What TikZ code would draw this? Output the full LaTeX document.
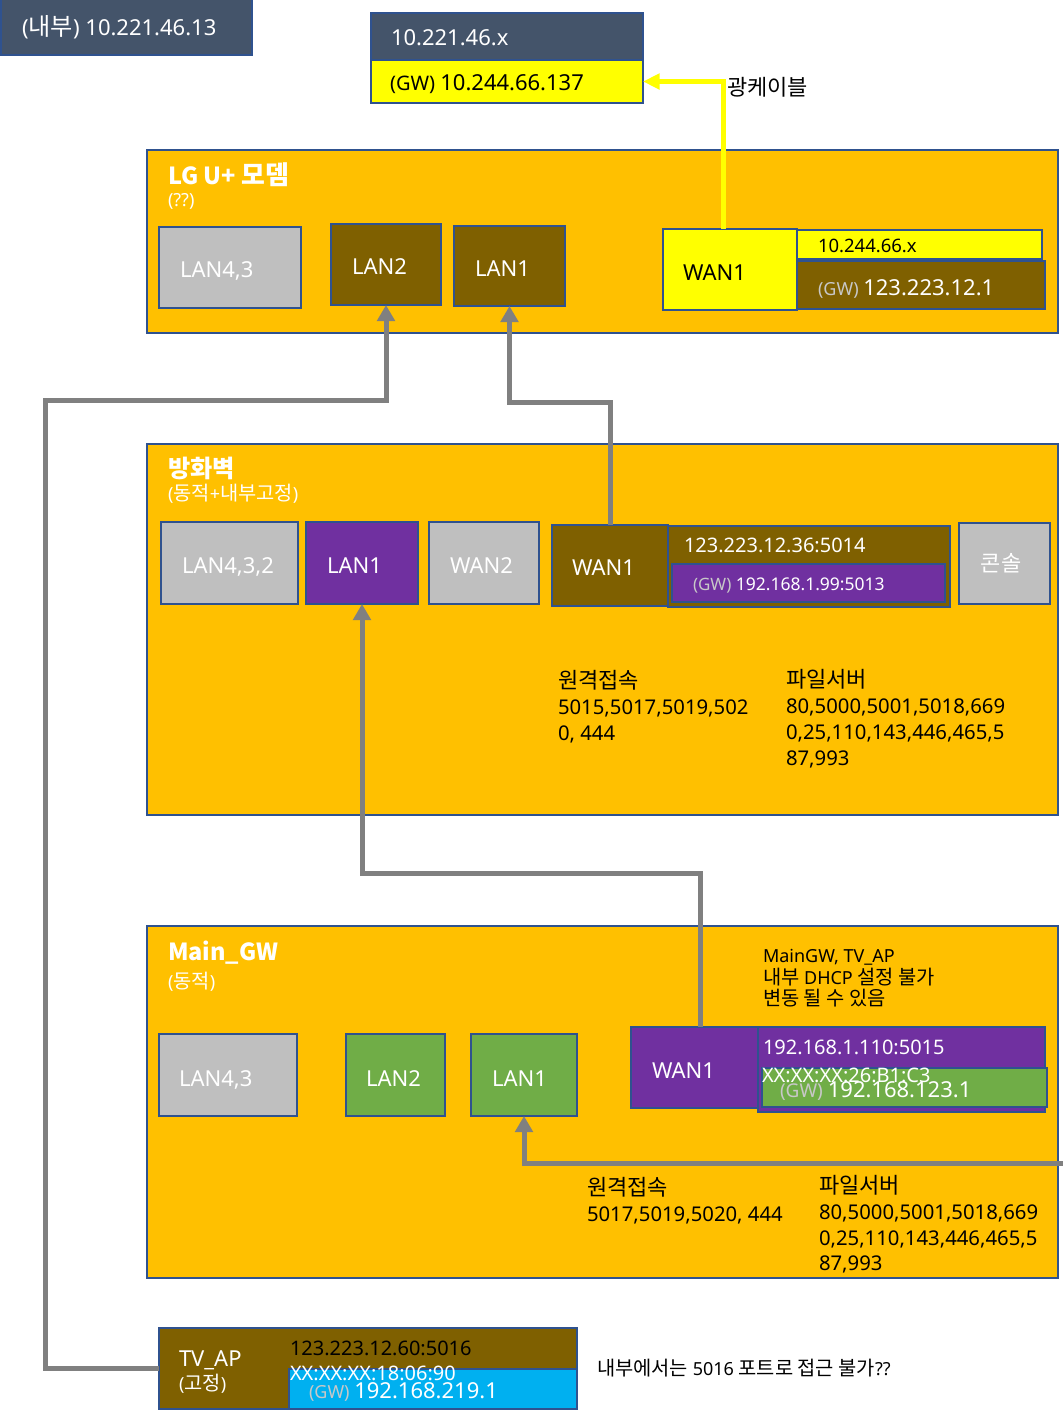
\documentclass[tikz,border=0pt]{standalone}
\usepackage{fontspec}
\setmainfont{Noto Sans}
\newfontfamily\kr{Noto Sans CJK KR}[Scale=1.1]
\newfontfamily\krt{Noto Sans CJK KR}
\usetikzlibrary{fit,arrows.meta,calc}
\definecolor{slate}{HTML}{44546A}
\definecolor{bd}{HTML}{2F528F}
\definecolor{gold}{HTML}{FFC000}
\definecolor{brn}{HTML}{7F6000}
\definecolor{lgr}{HTML}{BFBFBF}
\definecolor{purp}{HTML}{7030A0}
\definecolor{grn}{HTML}{70AD47}
\definecolor{sky}{HTML}{00B0F0}
\definecolor{yel}{HTML}{FFFF00}
\definecolor{cgr}{HTML}{808080}
\definecolor{gwt}{HTML}{C8C8C8}
\newcommand\pxs[1]{\fontsize{\dimexpr #1pt*3/4\relax}{\dimexpr #1pt*9/10\relax}\selectfont}
\begin{document}
\begin{tikzpicture}[x=0.75pt,y=-0.75pt,
  bx/.style={draw=bd, line width=1.2pt, inner sep=0pt, outer sep=0pt},
  t/.style={anchor=base west, inner sep=0pt, outer sep=0pt, text=white},
  tb/.style={t, text=black},
  conn/.style={draw=cgr, line width=3.75pt, -{Triangle[length=12pt,width=13pt]}},
  ycab/.style={draw=yel, line width=3.75pt, -{Triangle[length=12.5pt,width=11.5pt]}}]
\useasboundingbox (0,0) rectangle (1063,1411);

% top boxes
\node[bx, fill=slate, fit={(1,-2) (252,55)}] (inner) {};
\node[t, font=\pxs{22}] (innerT) at (22,35) {({\kr 내부}) 10.221.46.13};
\node[bx, fill=slate, fit={(371,13) (643,60)}] (topnet) {};
\node[t, font=\pxs{22}] (topnetT) at (391,45) {10.221.46.x};
\node[bx, fill=yel, fit={(371,60) (643,103)}] (topgw) {};
\node[tb, font=\pxs{20}] (topgwT) at (390,90) {(GW)\ {\pxs{22}10.244.66.137}};

% modem
\node[bx, fill=gold, fit={(147,150) (1058,333)}] (modem) {};
\node[t, font=\pxs{23.5}\bfseries\krt] (modemT) at (168,184) {LG U+ {\kr 모뎀}};
\node[t, font=\pxs{18}] (modemS) at (168,206) {(??)};
\node[bx, fill=lgr, fit={(159,227) (301,308)}] (mLAN43) {};
\node[t, font=\pxs{22}] (mLAN43T) at (180,277) {LAN4,3};
\node[bx, fill=brn, fit={(331,224) (441,305)}] (mLAN2) {};
\node[t, font=\pxs{22}] (mLAN2T) at (352,274) {LAN2};
\node[bx, fill=brn, fit={(454,226) (565,306)}] (mLAN1) {};
\node[t, font=\pxs{22}] (mLAN1T) at (475,276) {LAN1};
\node[bx, fill=yel, fit={(663,229) (797,310)}] (mWAN1) {};
\node[tb, font=\pxs{22}] (mWAN1T) at (683,280) {WAN1};
\node[bx, fill=yel, fit={(797,230) (1042,259)}] (mWANip) {};
\node[tb, font=\pxs{18.5}] (mWANipT) at (818,252) {10.244.66.x};
\node[bx, fill=brn, fit={(797,261) (1045,309)}] (mWANgw) {};
\node[t, font=\pxs{18}, text=gwt] (mWANgwT) at (818,295) {(GW)\ {\pxs{22}\color{white}123.223.12.1}};

% firewall
\node[bx, fill=gold, fit={(147,444) (1058,815)}] (fw) {};
\node[t, font=\pxs{22}\bfseries\kr] (fwT) at (168,477) {방화벽};
\node[t, font=\pxs{18}] (fwS) at (168,500) {({\kr 동적}+{\kr 내부고정})};
\node[bx, fill=lgr, fit={(161,522) (298,604)}] (fLAN432) {};
\node[t, font=\pxs{22}] (fLAN432T) at (182,573) {LAN4,3,2};
\node[bx, fill=purp, fit={(306,522) (418,604)}] (fLAN1) {};
\node[t, font=\pxs{22}] (fLAN1T) at (327,573) {LAN1};
\node[bx, fill=lgr, fit={(429,522) (539,604)}] (fWAN2) {};
\node[t, font=\pxs{22}] (fWAN2T) at (450,573) {WAN2};
\node[bx, fill=brn, fit={(552,525) (668,606)}] (fWAN1) {};
\node[t, font=\pxs{22}] (fWAN1T) at (572,575) {WAN1};
\node[bx, fill=brn, fit={(668,526) (950,607)}] (fWANip) {};
\node[t, font=\pxs{20}] (fWANipT) at (684,552) {123.223.12.36:5014};
\node[bx, fill=purp, fit={(672,564) (945,602)}] (fWANgw) {};
\node[t, font=\pxs{17}, text=gwt] (fWANgwT) at (693,590) {(GW)\ {\pxs{17.5}\color{white}192.168.1.99:5013}};
\node[bx, fill=lgr, fit={(959,523) (1050,604)}] (fCon) {};
\node[t, anchor=base, font=\pxs{20}\kr] (fConT) at (1001,571) {콘솔};
\node[tb, font=\pxs{20}\kr] (fR1) at (558,688) {원격접속};
\node[tb, font=\pxs{20.3}] (fR2) at (558,714) {5015,5017,5019,502};
\node[tb, font=\pxs{20.3}] (fR3) at (558,740) {0, 444};
\node[tb, font=\pxs{20}\kr] (fF1) at (786,687) {파일서버};
\node[tb, font=\pxs{20.3}] (fF2) at (786,713) {80,5000,5001,5018,669};
\node[tb, font=\pxs{20.3}] (fF3) at (786,739) {0,25,110,143,446,465,5};
\node[tb, font=\pxs{20.3}] (fF4) at (786,765) {87,993};

% Main_GW
\node[bx, fill=gold, fit={(147,926) (1058,1278)}] (mgw) {};
\node[t, font=\pxs{23.5}\bfseries\krt] (mgwT) at (168,960) {Main\_GW};
\node[t, font=\pxs{18}] (mgwS) at (168,988) {({\kr 동적})};
\node[bx, fill=lgr, fit={(159,1034) (297,1116)}] (gLAN43) {};
\node[t, font=\pxs{22}] (gLAN43T) at (179,1086) {LAN4,3};
\node[bx, fill=grn, fit={(346,1034) (445,1116)}] (gLAN2) {};
\node[t, font=\pxs{22}] (gLAN2T) at (366,1086) {LAN2};
\node[bx, fill=grn, fit={(471,1034) (577,1116)}] (gLAN1) {};
\node[t, font=\pxs{22}] (gLAN1T) at (492,1086) {LAN1};
\node[tb, font=\pxs{18}] (gN1) at (763,962) {MainGW, TV\_AP};
\node[tb, font=\pxs{18}] (gN2) at (763,984) {{\kr 내부} DHCP {\kr 설정 불가}};
\node[tb, font=\pxs{18}\kr] (gN3) at (763,1005) {변동 될 수 있음};
\node[bx, fill=purp, fit={(631,1027) (758,1108)}] (gWAN1) {};
\node[t, font=\pxs{22}] (gWAN1T) at (652,1078) {WAN1};
\node[bx, fill=purp, fit={(758,1027) (1045,1112)}] (gWANip) {};
\node[t, font=\pxs{20}] (gWANipT) at (763,1054) {192.168.1.110:5015};
\node[bx, fill=grn, fit={(762,1068) (1047,1107)}] (gWANgw) {};
\node[t, font=\pxs{19}, text=gwt] (gWANgwT) at (780,1097) {(GW)\ {\pxs{22}\color{white}192.168.123.1}};
\node[t, font=\pxs{20}] (gMac) at (762,1082) {XX:XX:XX:26:B1:C3};
\node[tb, font=\pxs{20}\kr] (gR1) at (587,1195) {원격접속};
\node[tb, font=\pxs{20.3}] (gR2) at (587,1221) {5017,5019,5020, 444};
\node[tb, font=\pxs{20}\kr] (gF1) at (819,1193) {파일서버};
\node[tb, font=\pxs{20.3}] (gF2) at (819,1219) {80,5000,5001,5018,669};
\node[tb, font=\pxs{20.3}] (gF3) at (819,1245) {0,25,110,143,446,465,5};
\node[tb, font=\pxs{20.3}] (gF4) at (819,1270) {87,993};

% TV_AP
\node[bx, fill=brn, fit={(159,1328) (577,1409)}] (tvap) {};
\node[bx, fill=sky, fit={(289,1369) (577,1409)}] (tvgw) {};
\node[t, font=\pxs{22}] (tvT) at (179,1366) {TV\_AP};
\node[t, font=\pxs{18}] (tvS) at (179,1390) {({\kr 고정})};
\node[tb, font=\pxs{20}] (tvIp) at (290,1355) {123.223.12.60:5016};
\node[t, font=\pxs{20}] (tvMac) at (290,1380) {XX:XX:XX:18:06:90};
\node[t, font=\pxs{18}, text=gwt] (tvGwT) at (309,1398) {(GW)\ {\pxs{22}\color{white}192.168.219.1}};
\node[tb, font=\pxs{18}] (tvNote) at (597,1375) {{\kr 내부에서는} 5016 {\kr 포트로 접근 불가}??};

% connectors
\draw[ycab] ($(mWAN1.north)+(-7,0)$) |- (topgw.east);
\node[tb, font=\pxs{20}\kr] (fiber) at (727,95) {광케이블};
\draw[conn] (tvap.west) -- ++(-114,0) |- ($(mLAN2.south)+(0,95)$) -- (mLAN2.south);
\draw[conn] (fWAN1.north) -- ++(0,-123) -| (mLAN1.south);
\draw[conn] ($(gWAN1.north)+(5.5,0)$) -- ++(0,-154) -| (fLAN1.south);
\coordinate (offR) at (1066,1163);
\draw[conn] (offR) -| (gLAN1.south);
\end{tikzpicture}
\end{document}
